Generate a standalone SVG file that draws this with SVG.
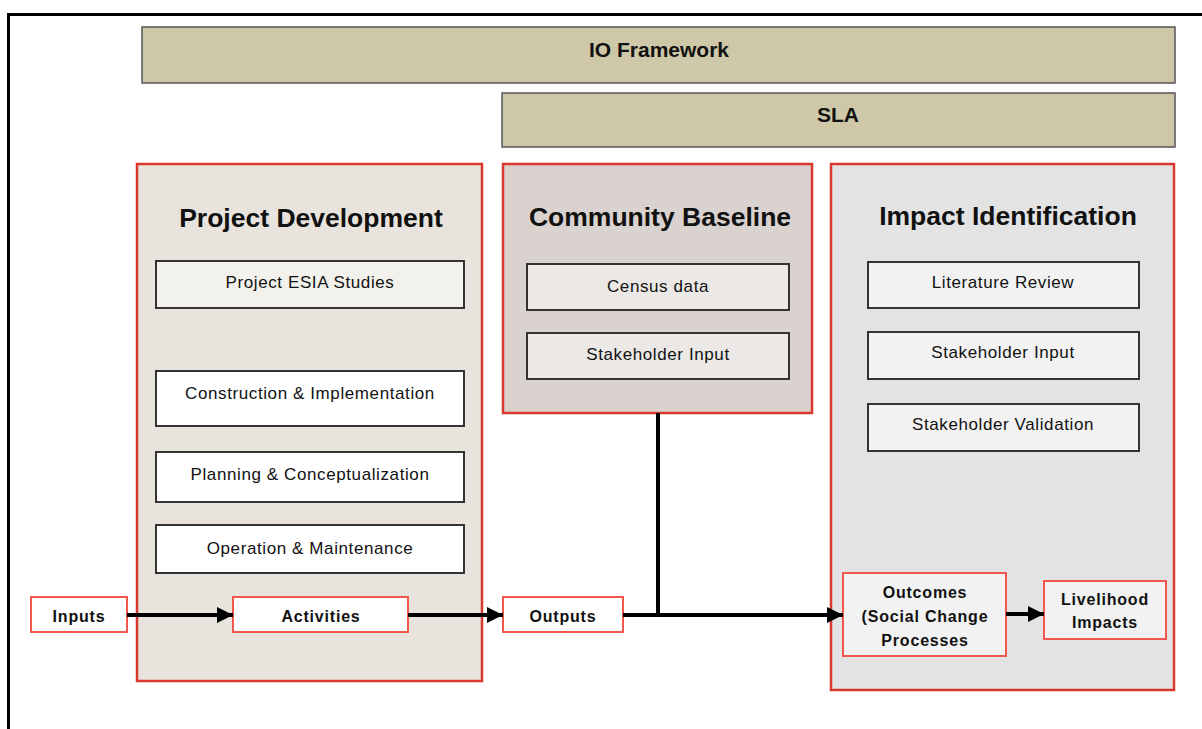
<svg xmlns="http://www.w3.org/2000/svg" width="1202" height="729" viewBox="0 0 1202 729">
<defs>
<style>
.bar{fill:#cfc8a8;stroke:#555;stroke-width:1.5}
.grp{stroke:#d9382f;stroke-width:2.5}
.item{stroke:#333;stroke-width:2}
.flow{fill:#fff;stroke:#f0584e;stroke-width:2}
.t{font-family:"Liberation Sans",Arial,sans-serif;fill:#111;text-anchor:middle}
.title{font-size:26.5px;font-weight:bold}
.bt{font-size:21px;font-weight:bold}
.it{font-size:17px;letter-spacing:0.6px}
.fl{font-size:16px;font-weight:bold;letter-spacing:0.8px}
.c{fill:none;stroke:#000;stroke-width:4}
</style>
<marker id="ah" viewBox="0 0 10 10" refX="10" refY="5" markerWidth="4" markerHeight="4" markerUnits="strokeWidth" orient="auto">
<path d="M0,0 L10,5 L0,10 z" fill="#000"/>
</marker>
</defs>
<rect width="1202" height="729" fill="#fff"/>
<path d="M8.5,729 V14.5 H1202" fill="none" stroke="#000" stroke-width="3"/>

<g id="io-framework">
<rect class="bar" x="142" y="27" width="1033" height="56"/>
<text class="t bt" x="659" y="57">IO Framework</text>
</g>
<g id="sla">
<rect class="bar" x="502" y="93" width="673" height="54"/>
<text class="t bt" x="838" y="122">SLA</text>
</g>

<g id="project-development">
<rect class="grp" x="137" y="164" width="345" height="517" fill="#e8e3dc"/>
<text class="t title" x="311" y="227">Project Development</text>
<g id="esia"><rect class="item" x="156" y="261" width="308" height="47" fill="#f3f1ec"/><text class="t it" x="310" y="288">Project ESIA Studies</text></g>
<g id="construction"><rect class="item" x="156" y="371" width="308" height="55" fill="#fff"/><text class="t it" x="310" y="399">Construction &amp; Implementation</text></g>
<g id="planning"><rect class="item" x="156" y="452" width="308" height="50" fill="#fff"/><text class="t it" x="310" y="480">Planning &amp; Conceptualization</text></g>
<g id="operation"><rect class="item" x="156" y="525" width="308" height="48" fill="#fff"/><text class="t it" x="310" y="554">Operation &amp; Maintenance</text></g>
</g>

<g id="community-baseline">
<rect class="grp" x="503" y="164" width="309" height="249" fill="#d9d2cf"/>
<text class="t title" x="660" y="226">Community Baseline</text>
<g id="census"><rect class="item" x="527" y="264" width="262" height="46" fill="#ebe8e6"/><text class="t it" x="658" y="292">Census data</text></g>
<g id="cb-stakeholder"><rect class="item" x="527" y="333" width="262" height="46" fill="#ebe8e6"/><text class="t it" x="658" y="360">Stakeholder Input</text></g>
</g>

<g id="impact-identification">
<rect class="grp" x="831" y="164" width="343" height="526" fill="#e3e3e3"/>
<text class="t title" x="1008" y="225">Impact Identification</text>
<g id="literature"><rect class="item" x="868" y="262" width="271" height="46" fill="#f2f2f2"/><text class="t it" x="1003" y="288">Literature Review</text></g>
<g id="ii-stakeholder"><rect class="item" x="868" y="332" width="271" height="47" fill="#f2f2f2"/><text class="t it" x="1003" y="358">Stakeholder Input</text></g>
<g id="validation"><rect class="item" x="868" y="404" width="271" height="47" fill="#f2f2f2"/><text class="t it" x="1003" y="430">Stakeholder Validation</text></g>
</g>

<g id="inputs"><rect class="flow" x="31" y="597" width="96" height="35"/><text class="t fl" x="79" y="622">Inputs</text></g>
<g id="activities"><rect class="flow" x="233" y="597" width="175" height="35"/><text class="t fl" x="321" y="622">Activities</text></g>
<g id="outputs"><rect class="flow" x="503" y="597" width="120" height="35"/><text class="t fl" x="563" y="622">Outputs</text></g>
<g id="outcomes"><rect class="flow" x="843" y="573" width="163" height="83" style="fill:#f2f2f2"/>
<text class="t fl" x="925" y="598">Outcomes</text>
<text class="t fl" x="925" y="622">(Social Change</text>
<text class="t fl" x="925" y="646">Processes</text></g>
<g id="livelihood"><rect class="flow" x="1044" y="581" width="122" height="58" style="fill:#f2f2f2"/>
<text class="t fl" x="1105" y="605">Livelihood</text>
<text class="t fl" x="1105" y="628">Impacts</text></g>

<g id="connectors">
<line class="c" x1="127" y1="615" x2="233" y2="615" marker-end="url(#ah)"/>
<line class="c" x1="408" y1="615" x2="503" y2="615" marker-end="url(#ah)"/>
<line class="c" x1="623" y1="615" x2="843" y2="615" marker-end="url(#ah)"/>
<line class="c" x1="658" y1="413" x2="658" y2="615"/>
<line class="c" x1="1006" y1="614" x2="1044" y2="614" marker-end="url(#ah)"/>
</g>
</svg>
